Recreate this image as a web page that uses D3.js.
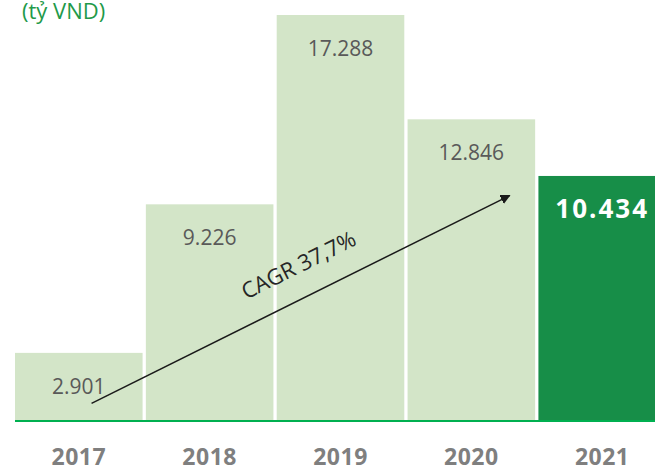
<!DOCTYPE html>
<html>
<head>
<meta charset="utf-8">
<script src="https://cdn.jsdelivr.net/npm/d3@7"></script>
<style>
  body { margin: 0; background: #fff; }
  svg { display: block; font-family: "Open Sans", sans-serif; }
</style>
</head>
<body>
<script>
// chart data
const years = ["2017", "2018", "2019", "2020", "2021"];
const values = [2901, 9226, 17288, 12846, 10434];
const valueLabels = ["2.901", "9.226", "17.288", "12.846", "10.434"];
const unitLabel = "(tỷ VND)";
const cagrLabel = "CAGR 37,7%";

const width = 655, height = 469;
const baseY = 421;

const svg = d3.select("body").append("svg")
  .attr("width", width)
  .attr("height", height);

// scales
const x = d3.scaleBand().domain(years).range([15, 666]).paddingInner(0.025).paddingOuter(0);
const y = d3.scaleLinear().domain([0, 17288]).range([baseY, 15]);
const last = years.length - 1;

// bars
svg.selectAll("rect.bar")
  .data(years)
  .enter().append("rect")
  .attr("class", "bar")
  .attr("x", d => x(d))
  .attr("y", (d, i) => y(values[i]))
  .attr("width", x.bandwidth())
  .attr("height", (d, i) => baseY - y(values[i]))
  .attr("fill", (d, i) => i === last ? "#178e48" : "#d3e5c8");

// value labels
svg.selectAll("text.val")
  .data(years)
  .enter().append("text")
  .attr("class", "val")
  .attr("x", d => x(d) + x.bandwidth() / 2)
  .attr("y", (d, i) => y(values[i]) + (i === last ? 42 : 41))
  .attr("text-anchor", "middle")
  .attr("font-size", (d, i) => i === last ? 26 : 21)
  .attr("font-weight", (d, i) => i === last ? 700 : 400)
  .attr("letter-spacing", (d, i) => i === last ? 2 : 0)
  .attr("fill", (d, i) => i === last ? "#fff" : "#595959")
  .text((d, i) => valueLabels[i]);

// baseline
svg.append("line")
  .attr("x1", 15).attr("x2", width)
  .attr("y1", baseY).attr("y2", baseY)
  .attr("stroke", "#00b050")
  .attr("stroke-width", 2);

// x axis labels
svg.selectAll("text.year")
  .data(years)
  .enter().append("text")
  .attr("class", "year")
  .attr("x", d => x(d) + x.bandwidth() / 2)
  .attr("y", 465)
  .attr("text-anchor", "middle")
  .attr("font-size", 23)
  .attr("font-weight", 700)
  .attr("letter-spacing", 0.5)
  .attr("fill", "#7f7f7f")
  .text(d => d);

// unit label
svg.append("text")
  .attr("x", 22).attr("y", 19)
  .attr("font-size", 22)
  .attr("fill", "#1f9a4a")
  .text(unitLabel);

// CAGR arrow
svg.append("defs").append("marker")
  .attr("id", "head")
  .attr("viewBox", "0 0 10 10")
  .attr("refX", 9).attr("refY", 5)
  .attr("markerWidth", 10).attr("markerHeight", 10)
  .attr("markerUnits", "userSpaceOnUse")
  .attr("orient", "auto")
  .append("path")
  .attr("d", "M0,0L10,5L0,10Z")
  .attr("fill", "#1a1a1a");

const ax1 = x("2017") + x.bandwidth() * 0.6, ay1 = y(750);
const ax2 = x("2020") + x.bandwidth() * 0.8, ay2 = y(9600);
svg.append("line")
  .attr("x1", ax1).attr("y1", ay1)
  .attr("x2", ax2).attr("y2", ay2)
  .attr("stroke", "#1a1a1a")
  .attr("stroke-width", 1.5)
  .attr("marker-end", "url(#head)");

const angle = Math.atan2(ay2 - ay1, ax2 - ax1) * 180 / Math.PI;
svg.append("text")
  .attr("transform", `translate(302,272) rotate(${angle})`)
  .attr("text-anchor", "middle")
  .attr("font-size", 22)
  .attr("fill", "#262626")
  .text(cagrLabel);
</script>
</body>
</html>
